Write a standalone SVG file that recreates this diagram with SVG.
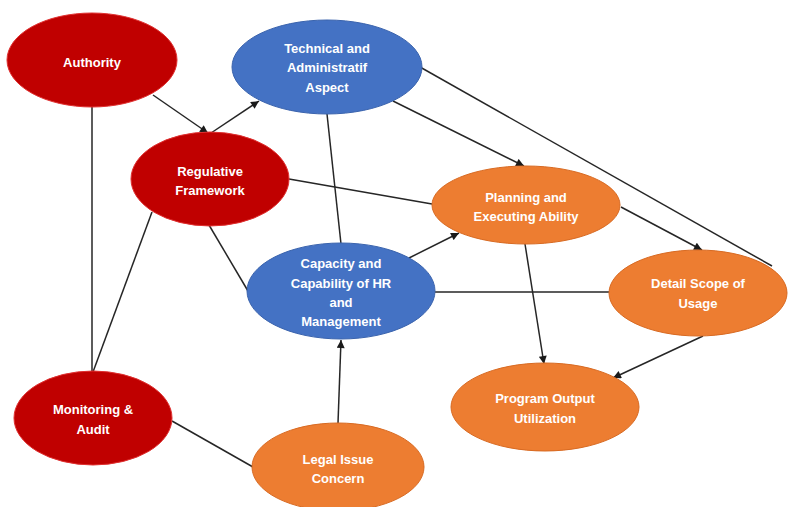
<svg xmlns="http://www.w3.org/2000/svg" width="788" height="507" viewBox="0 0 788 507">
<defs>
<marker id="arr" viewBox="0 0 10 10" refX="10" refY="5" markerWidth="9" markerHeight="8" markerUnits="userSpaceOnUse" orient="auto">
<path d="M0,0 L10,5 L0,10 z" fill="#1a1a1a"/>
</marker>
<style>
.red{fill:#C00000;stroke:#E03030;stroke-width:1}
.blue{fill:#4472C4;stroke:#3A63AD;stroke-width:1}
.orange{fill:#ED7D31;stroke:#D86A22;stroke-width:1}
.lbl{font-family:"Liberation Sans",Arial,sans-serif;font-size:13px;font-weight:bold;fill:#ffffff;text-anchor:middle}
.c{stroke:#262626;stroke-width:1.5;fill:none}
.a{marker-end:url(#arr)}
</style>
</defs>
<rect width="788" height="507" fill="#ffffff"/>
<g id="connectors">
<line class="c a" x1="153" y1="95" x2="208" y2="133"/>
<line class="c a" x1="211" y1="133" x2="259" y2="101"/>
<line class="c" x1="92" y1="107" x2="92" y2="372"/>
<line class="c" x1="152" y1="212" x2="93" y2="372"/>
<line class="c" x1="209" y1="225" x2="248" y2="291"/>
<line class="c" x1="289" y1="179" x2="432" y2="204"/>
<line class="c" x1="327" y1="114" x2="341" y2="244"/>
<line class="c a" x1="393" y1="101" x2="524" y2="166"/>
<line class="c" x1="420" y1="67" x2="772" y2="266"/>
<line class="c a" x1="621" y1="207" x2="702" y2="250"/>
<line class="c a" x1="409" y1="258" x2="459" y2="233"/>
<line class="c" x1="435" y1="292" x2="609" y2="292"/>
<line class="c a" x1="525" y1="244" x2="544" y2="364"/>
<line class="c a" x1="703" y1="336" x2="613" y2="378"/>
<line class="c a" x1="338" y1="423" x2="341" y2="340"/>
<line class="c" x1="172" y1="421" x2="253" y2="467"/>
</g>
<g id="authority">
<ellipse class="red" cx="92" cy="60" rx="85" ry="47"/>
<text class="lbl" x="92" y="67">Authority</text>
</g>
<g id="technical">
<ellipse class="blue" cx="327" cy="67" rx="95" ry="47"/>
<text class="lbl" x="327" y="53">Technical and</text>
<text class="lbl" x="327" y="72">Administratif</text>
<text class="lbl" x="327" y="92">Aspect</text>
</g>
<g id="regulative">
<ellipse class="red" cx="210" cy="179" rx="79" ry="47"/>
<text class="lbl" x="210" y="176">Regulative</text>
<text class="lbl" x="210" y="195">Framework</text>
</g>
<g id="planning">
<ellipse class="orange" cx="526" cy="205" rx="94" ry="39"/>
<text class="lbl" x="526" y="202">Planning and</text>
<text class="lbl" x="526" y="221">Executing Ability</text>
</g>
<g id="capacity">
<ellipse class="blue" cx="341" cy="291" rx="94" ry="48"/>
<text class="lbl" x="341" y="268">Capacity and</text>
<text class="lbl" x="341" y="288">Capability of HR</text>
<text class="lbl" x="341" y="307">and</text>
<text class="lbl" x="341" y="326">Management</text>
</g>
<g id="detail">
<ellipse class="orange" cx="698" cy="293" rx="89" ry="43"/>
<text class="lbl" x="698" y="288">Detail Scope of</text>
<text class="lbl" x="698" y="308">Usage</text>
</g>
<g id="monitoring">
<ellipse class="red" cx="93" cy="418" rx="79" ry="47"/>
<text class="lbl" x="93" y="414">Monitoring &amp;</text>
<text class="lbl" x="93" y="434">Audit</text>
</g>
<g id="legal">
<ellipse class="orange" cx="338" cy="467" rx="86" ry="44"/>
<text class="lbl" x="338" y="464">Legal Issue</text>
<text class="lbl" x="338" y="483">Concern</text>
</g>
<g id="program">
<ellipse class="orange" cx="545" cy="407" rx="94" ry="44"/>
<text class="lbl" x="545" y="403">Program Output</text>
<text class="lbl" x="545" y="423">Utilization</text>
</g>
</svg>
